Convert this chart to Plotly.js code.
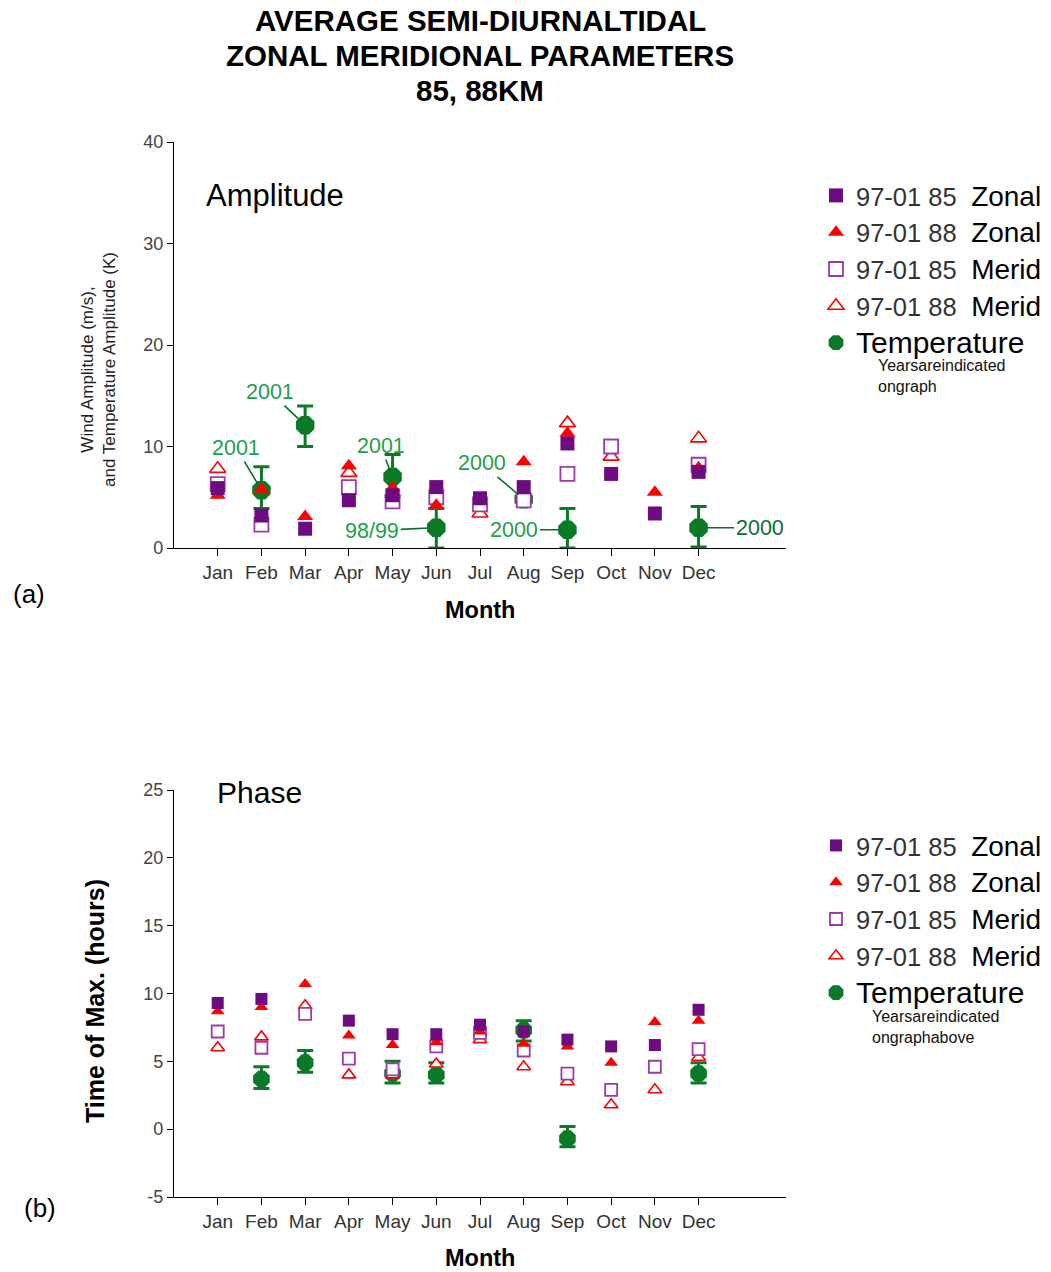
<!DOCTYPE html>
<html>
<head>
<meta charset="utf-8">
<script src="https://cdn.plot.ly/plotly-3.0.1.min.js"></script>
<style>html,body{margin:0;padding:0;background:#fff;}#chart{width:1051px;height:1272px;}</style>
</head>
<body>
<div id="chart"></div>
<script>
// ---------- DATA ----------
const months = [1,2,3,4,5,6,7,8,9,10,11,12];
const monthLabels = ["Jan","Feb","Mar","Apr","May","Jun","Jul","Aug","Sep","Oct","Nov","Dec"];
const phaseTickVals = [-5, 0, 5, 10, 15, 20, 25];
const phaseTickText = ["-5", "0", "5", "10", "15", "20", "25"];

// (a) Amplitude
const zonal85Amp = [5.9, 3.2, 1.9, 4.7, 5.2, 6.0, 4.9, 6.0, 10.3, 7.3, 3.4, 7.5];
const zonal88Amp = [5.2, 5.8, 3.1, 8.1, 5.9, 4.2, null, 8.5, 11.3, null, 5.5, 7.9];
const merid85Amp = [6.3, 2.3, null, 6.0, 4.6, 5.0, 4.3, 4.7, 7.3, 10.0, null, 8.2];
const merid88Amp = [7.8, null, null, 7.4, null, null, 3.4, null, 12.3, 9.0, null, 10.8];
const tempAmp    = [null, 5.7, 12.1, null, 7.0, 2.0, null, 4.8, 1.8, null, null, 2.0];
const tempAmpHi  = [null, 8.0, 14.0, null, 9.2, 3.9, null, 5.1, 3.9, null, null, 4.1];
const tempAmpLo  = [null, 3.9, 10.0, null, 5.1, 0.0, null, 4.5, 0.0, null, null, 0.1];
const tempAmpYears = [null, "2001", "2001", null, "2001", "98/99", null, "2000", "2000", null, null, "2000"];

// (b) Phase
const zonal85Ph = [9.3, 9.6, null, 8.0, 7.0, 7.0, 7.7, 7.2, 6.6, 6.1, 6.2, 8.8];
const zonal88Ph = [8.7, 9.0, 10.7, 6.9, 6.2, 6.4, 7.2, 6.3, 6.1, 4.9, 7.9, 8.0];
const merid85Ph = [7.2, 6.0, 8.5, 5.2, 4.4, 6.1, 7.1, 5.8, 4.1, 2.9, 4.6, 5.9];
const merid88Ph = [6.0, 6.8, 9.1, 4.0, 4.0, 4.8, 6.6, 4.6, 3.5, 1.8, 2.9, 5.3];
const tempPh    = [null, 3.7, 4.9, null, 4.1, 4.0, null, 7.3, -0.7, null, null, 4.1];
const tempPhHi  = [null, 4.6, 5.8, null, 5.0, 4.9, null, 8.0, 0.2, null, null, 4.9];
const tempPhLo  = [null, 3.0, 4.2, null, 3.4, 3.4, null, 6.5, -1.3, null, null, 3.4];

// ---------- STYLE ----------
const PURPLE = "#6d0c80", PURPLE_LINE = "#9b3aab", RED = "#ff0000", GREEN = "#0b7a28", GREEN_TXT = "#1f9e4c";
const W = 1051, H = 1272;
const px = x => x / W, py = y => 1 - y / H;
const F = "Liberation Sans, Arial, sans-serif";

function legName(a, b) {
  return '<span style="font-size:25.5px;color:#333">' + a + '</span>  <span style="font-size:28px;color:#000">' + b + '</span>';
}
const plus = (v, hi) => v.map((d, i) => d == null ? null : +(hi[i] - d).toFixed(2));
const minus = (v, lo) => v.map((d, i) => d == null ? null : +(d - lo[i]).toFixed(2));

function panel(xa, ya, leg, z85, z88, m85, m88, t, tHi, tLo, s) {
  return [
    {x: months, y: t, xaxis: xa, yaxis: ya, legend: leg, legendrank: 5, type: "scatter", mode: "markers",
     name: '<span style="font-size:30px;color:#000">Temperature</span>',
     marker: {symbol: "octagon", size: s.c, color: GREEN},
     error_y: {type: "data", symmetric: false, array: plus(t, tHi), arrayminus: minus(t, tLo), color: GREEN, thickness: 3, width: 8}},
    {x: months, y: m88, xaxis: xa, yaxis: ya, legend: leg, legendrank: 4, type: "scatter", mode: "markers",
     name: legName("97-01 88", "Merid"),
     marker: {symbol: "triangle-up", size: s.t, color: "#fff", line: {color: RED, width: 1.6}}},
    {x: months, y: m85, xaxis: xa, yaxis: ya, legend: leg, legendrank: 3, type: "scatter", mode: "markers",
     name: legName("97-01 85", "Merid"),
     marker: {symbol: "square", size: s.q, color: "#fff", line: {color: PURPLE_LINE, width: 1.8}}},
    {x: months, y: z88, xaxis: xa, yaxis: ya, legend: leg, legendrank: 2, type: "scatter", mode: "markers",
     name: legName("97-01 88", "Zonal"),
     marker: {symbol: "triangle-up", size: s.t, color: RED}},
    {x: months, y: z85, xaxis: xa, yaxis: ya, legend: leg, legendrank: 1, type: "scatter", mode: "markers",
     name: legName("97-01 85", "Zonal"),
     marker: {symbol: "square", size: s.q, color: PURPLE}}
  ];
}

const data = [].concat(
  panel("x", "y", "legend", zonal85Amp, zonal88Amp, merid85Amp, merid88Amp, tempAmp, tempAmpHi, tempAmpLo, {q: 14, t: 14, c: 20}),
  panel("x2", "y2", "legend2", zonal85Ph, zonal88Ph, merid85Ph, merid88Ph, tempPh, tempPhHi, tempPhLo, {q: 12, t: 12, c: 18})
);

const xaxisBase = {
  range: [0, 14], tickmode: "array", tickvals: months, ticktext: monthLabels,
  showgrid: false, zeroline: false, showline: true, linecolor: "#000", linewidth: 1.2,
  ticks: "outside", ticklen: 7, tickcolor: "#000", tickfont: {family: F, size: 19, color: "#333"}, fixedrange: true
};
const yaxisBase = {
  showgrid: false, zeroline: false, showline: true, linecolor: "#000", linewidth: 1.2,
  ticks: "outside", ticklen: 6, tickcolor: "#000", tickfont: {family: F, size: 18, color: "#444"}, fixedrange: true
};

// year labels on (a) with offsets for the label placement
const yearOffsets = {2: [-25, -42], 3: [-35, -33], 5: [-12, -31], 6: [-64, 3], 8: [-42, -36], 9: [-53, 0], 12: [61, 0]};
const annotations = [];
months.forEach((m, i) => {
  if (tempAmpYears[i] && yearOffsets[m]) {
    const o = yearOffsets[m];
    annotations.push({xref: "x", yref: "y", x: m, y: tempAmp[i], text: tempAmpYears[i], showarrow: true,
      arrowhead: 0, arrowwidth: 1.6, arrowcolor: "#0b6e30", ax: o[0], ay: o[1], standoff: 7,
      font: {family: F, size: 21.5, color: m === 12 ? "#0b6e30" : GREEN_TXT}});
  }
});

const txt = (x, y, text, size, opts) => Object.assign({xref: "paper", yref: "paper", x: px(x), y: py(y), text: text,
  showarrow: false, xanchor: "center", yanchor: "middle", font: {family: F, size: size, color: "#000"}}, opts || {});

annotations.push(
  txt(480, 21, "<b>AVERAGE SEMI-DIURNALTIDAL</b>", 29.5),
  txt(480, 55, "<b>ZONAL MERIDIONAL PARAMETERS</b>", 29.5),
  txt(480, 90, "<b>85, 88KM</b>", 29.5),
  txt(275, 196, "Amplitude", 31),
  txt(259, 793, "Phase", 30),
  txt(29, 594, "(a)", 26),
  txt(40, 1208, "(b)", 26),
  txt(480, 610, "<b>Month</b>", 23.5),
  txt(480, 1258, "<b>Month</b>", 23.5),
  txt(98, 370, "Wind Amplitude (m/s),<br>and Temperature Amplitude (K)", 17, {textangle: -90, font: {family: F, size: 17, color: "#222"}}),
  txt(95, 1001, "<b>Time of Max. (hours)</b>", 25, {textangle: -90}),
  txt(876, 376, "Yearsareindicated<br>ongraph", 16, {xanchor: "left", align: "left", font: {family: F, size: 16, color: "#111"}}),
  txt(870, 1027, "Yearsareindicated<br>ongraphabove", 16, {xanchor: "left", align: "left", font: {family: F, size: 16, color: "#111"}})
);

const layout = {
  width: W, height: H, margin: {l: 0, r: 0, t: 0, b: 0}, paper_bgcolor: "#fff", plot_bgcolor: "#fff",
  font: {family: F},
  xaxis: Object.assign({}, xaxisBase, {domain: [px(174), px(786)], anchor: "y"}),
  yaxis: Object.assign({}, yaxisBase, {domain: [py(548), py(142)], range: [0, 40], dtick: 10, tick0: 0, anchor: "x"}),
  xaxis2: Object.assign({}, xaxisBase, {domain: [px(174), px(786)], anchor: "y2"}),
  yaxis2: Object.assign({}, yaxisBase, {domain: [py(1197), py(790)], range: [-5, 25], tickmode: "array",
    tickvals: phaseTickVals, ticktext: phaseTickText, anchor: "x2"}),
  showlegend: true,
  legend: {x: px(816), y: py(172), xanchor: "left", yanchor: "top", bgcolor: "rgba(0,0,0,0)",
    font: {family: F, size: 26, color: "#000"}, itemclick: false, itemdoubleclick: false, tracegroupgap: 0},
  legend2: {x: px(816), y: py(822), xanchor: "left", yanchor: "top", bgcolor: "rgba(0,0,0,0)",
    font: {family: F, size: 26, color: "#000"}, itemclick: false, itemdoubleclick: false, tracegroupgap: 0},
  annotations: annotations
};

Plotly.newPlot("chart", data, layout, {displayModeBar: false, staticPlot: true});
</script>
</body>
</html>
